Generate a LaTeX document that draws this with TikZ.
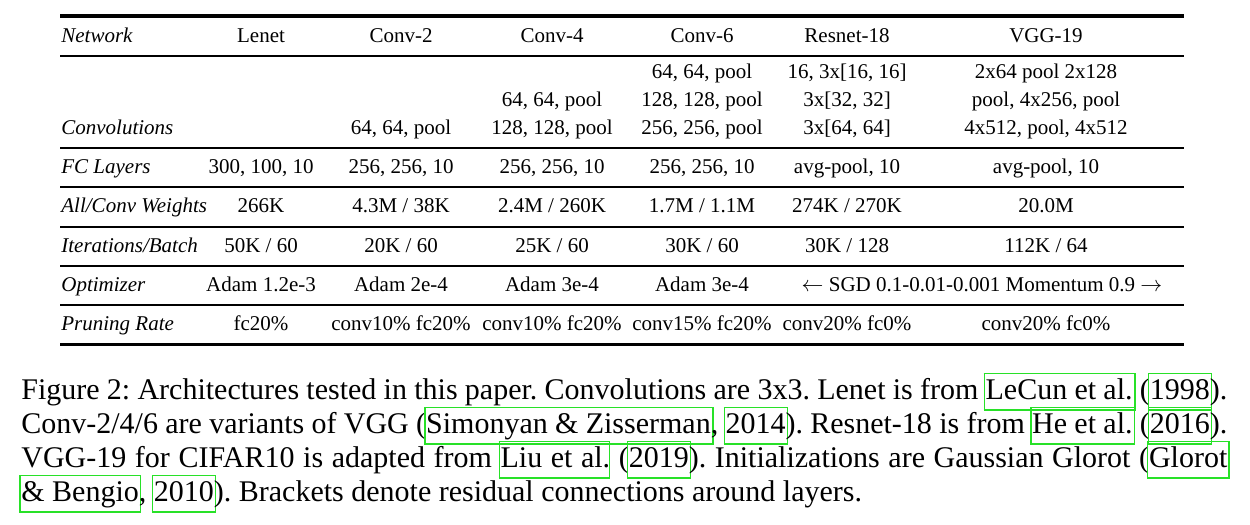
\documentclass[tikz,border=0pt]{standalone}
\usepackage{fontspec}
\setmainfont{Liberation Serif}
\usepackage{tikz}
\usetikzlibrary{positioning, calc}

\definecolor{linkgreen}{RGB}{40,225,40}
% green frame round a citation, as hyperref draws it
\newcommand\lnk[1]{\leavevmode\makebox[0pt][l]{\kern-1pt{\color{linkgreen}\setlength\fboxsep{0pt}\setlength\fboxrule{0.7pt}\fbox{\rule[-5pt]{0pt}{17.5pt}\phantom{#1}\kern0.8pt}}}#1}

\tikzset{
  cell/.style={font=\fontsize{10.5}{12}\selectfont, inner sep=0pt, anchor=base},
  rowlab/.style={font=\fontsize{10.5}{12}\selectfont\itshape, inner sep=0pt, anchor=base west},
  capline/.style={font=\fontsize{15}{17}\selectfont\frenchspacing, inner sep=0pt, anchor=base west},
  thickrule/.style={line width=1.6pt},
  thinrule/.style={line width=1pt}
}

\begin{document}
\begin{tikzpicture}[x=0.5pt, y=-0.5pt]
\useasboundingbox (0,0) rectangle (1250,525);

% rules
\draw[thickrule] (60,16) -- (1184,16);
\draw[thickrule] (60,344.5) -- (1184,344.5);
\foreach \y in {55.7, 147.7, 187.3, 226.6, 265.9, 305.2}
    \draw[thinrule] (60,\y) -- (1184,\y);

% row labels
\node[rowlab] (lNet)  at (61,42.3)  {Network};
\node[rowlab] (lConv) at (61,134.3) {Convolutions};
\node[rowlab] (lFC)   at (61,173.6) {FC Layers};
\node[rowlab] (lW)    at (61,212.9) {All/Conv Weights};
\node[rowlab] (lIt)   at (61,252.2) {Iterations/Batch};
\node[rowlab] (lOpt)  at (61,291.5) {Optimizer};
\node[rowlab] (lPr)   at (61,330.8) {Pruning Rate};

% header
\foreach \x/\t [count=\i] in {261/Lenet, 401/Conv-2, 552/Conv-4, 702/Conv-6, 847/Resnet-18, 1046/VGG-19}
    \node[cell] (h\i) at (\x,42.3) {\t};

% convolutions, three lines
\foreach \x/\t [count=\i] in {702/{64, 64, pool}, 847/{16, 3x[16, 16]}, 1046/{2x64 pool 2x128}}
    \node[cell] (ca\i) at (\x,78.3) {\t};
\foreach \x/\t [count=\i] in {552/{64, 64, pool}, 702/{128, 128, pool}, 847/{3x[32, 32]}, 1046/{pool, 4x256, pool}}
    \node[cell] (cb\i) at (\x,106.3) {\t};
\foreach \x/\t [count=\i] in {401/{64, 64, pool}, 552/{128, 128, pool}, 702/{256, 256, pool}, 847/{3x[64, 64]}, 1046/{4x512, pool, 4x512}}
    \node[cell] (cc\i) at (\x,134.3) {\t};

% fc layers
\foreach \x/\t [count=\i] in {261/{300, 100, 10}, 401/{256, 256, 10}, 552/{256, 256, 10}, 702/{256, 256, 10}, 847/{avg-pool, 10}, 1046/{avg-pool, 10}}
    \node[cell] (fc\i) at (\x,173.6) {\t};

% weights
\foreach \x/\t [count=\i] in {261/266K, 401/{4.3M / 38K}, 552/{2.4M / 260K}, 702/{1.7M / 1.1M}, 847/{274K / 270K}, 1046/20.0M}
    \node[cell] (w\i) at (\x,212.9) {\t};

% iterations
\foreach \x/\t [count=\i] in {261/{50K / 60}, 401/{20K / 60}, 552/{25K / 60}, 702/{30K / 60}, 847/{30K / 128}, 1046/{112K / 64}}
    \node[cell] (it\i) at (\x,252.2) {\t};

% optimizer
\foreach \x/\t [count=\i] in {261/Adam 1.2e-3, 401/Adam 2e-4, 552/Adam 3e-4, 702/Adam 3e-4}
    \node[cell] (op\i) at (\x,291.5) {\t};
\node[cell] (sgd) at (982,291.5) {$\leftarrow$ SGD 0.1-0.01-0.001 Momentum 0.9 $\rightarrow$};

% pruning
\foreach \x/\t [count=\i] in {261/fc20\%, 401/conv10\% fc20\%, 552/conv10\% fc20\%, 702/conv15\% fc20\%, 847/conv20\% fc0\%, 1046/conv20\% fc0\%}
    \node[cell] (pr\i) at (\x,330.8) {\t};

% caption
\node[capline] (cap1) at (21,399.3) {\makebox[603pt][s]{Figure 2: Architectures tested in this paper. Convolutions are 3x3. Lenet is from \lnk{LeCun et al.} (\lnk{1998}).}};
\node[capline] (cap2) at (21,433.3) {\makebox[603pt][s]{Conv-2/4/6 are variants of VGG (\lnk{Simonyan \& Zisserman}, \lnk{2014}). Resnet-18 is from \lnk{He et al.} (\lnk{2016}).}};
\node[capline] (cap3) at (21,467.3) {\makebox[603pt][s]{VGG-19 for CIFAR10 is adapted from \lnk{Liu et al.} (\lnk{2019}). Initializations are Gaussian Glorot (\lnk{Glorot}}};
\node[capline] (cap4) at (21,501.3) {\lnk{\& Bengio}, \lnk{2010}). Brackets denote residual connections around layers.};
\end{tikzpicture}
\end{document}
